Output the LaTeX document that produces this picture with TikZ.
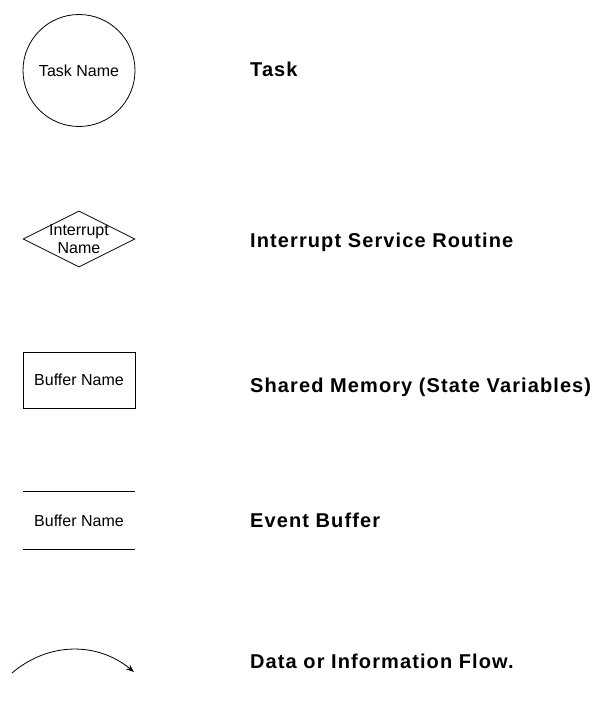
\documentclass[tikz,border=0pt]{standalone}
\usepackage{fontspec}
\setmainfont{Liberation Sans}
\newfontfamily\legendfont[LetterSpace=5.5]{Liberation Sans}
\usetikzlibrary{shapes.geometric, arrows.meta}

\begin{document}
\begin{tikzpicture}[x=1pt, y=1pt,
    tasknode/.style={circle, draw=black, line width=0.8pt, minimum size=112pt,
        inner sep=0pt, font=\fontsize{16}{18}\selectfont, text=black},
    isrnode/.style={diamond, draw=black, line width=0.8pt, minimum width=112pt,
        minimum height=56pt, inner sep=0pt},
    memnode/.style={rectangle, draw=black, line width=0.8pt, minimum width=112pt,
        minimum height=56pt, inner sep=0pt, font=\fontsize{16}{18}\selectfont},
    bufnode/.style={rectangle, draw=none, minimum width=112pt, minimum height=57pt,
        inner sep=0pt, font=\fontsize{16}{18}\selectfont},
    legend/.style={anchor=base west, inner sep=0pt, text=black,
        font=\legendfont\bfseries\fontsize{20}{22}\selectfont},
    flow/.style={-{Stealth[length=8pt, width=6pt]}, line width=0.8pt}
]
\useasboundingbox (0,0) rectangle (607,-709);

% symbols
\node (task) [tasknode] at (79,-70.5) {Task Name};
\node (isr) [isrnode, label={[align=center, inner sep=0pt,
    font=\fontsize{16}{18}\selectfont]center:Interrupt\\Name}] at (79,-239) {};
\node (shmem) [memnode] at (79,-380) {Buffer Name};
\node (evbuf) [bufnode] at (79,-520.5) {Buffer Name};
\draw [line width=1pt] (evbuf.north west) -- (evbuf.north east);
\draw [line width=1pt] (evbuf.south west) -- (evbuf.south east);
\coordinate (flowA) at (12,-673);
\coordinate (flowB) at (134,-672);
\draw [flow] (flowA) to[bend left=40] (flowB);

% legend texts
\node (taskLbl) [legend] at (250,-77) {Task};
\node (isrLbl) [legend] at (250,-247) {Interrupt Service Routine};
\node (shmemLbl) [legend] at (250,-392) {Shared Memory (State Variables)};
\node (evbufLbl) [legend] at (250,-527) {Event Buffer};
\node (flowLbl) [legend] at (250,-668) {Data or Information Flow.};

\end{tikzpicture}
\end{document}
